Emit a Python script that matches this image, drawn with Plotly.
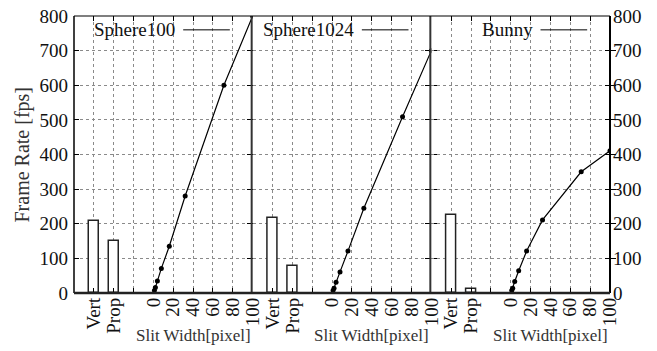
import plotly.graph_objects as go

# ---- data ----
panels = ["Sphere100", "Sphere1024", "Bunny"]
bar_labels = ["Vert", "Prop"]
vert_fps = [209, 217, 226]
prop_fps = [149, 77, 13]
slit_width = [1, 2, 4, 8, 16, 32, 71, 100]
sphere100_fps = [7, 16, 35, 71, 135, 280, 600, 800]
sphere1024_fps = [7, 14, 31, 61, 121, 245, 509, 700]
bunny_fps = [7, 14, 33, 64, 121, 211, 350, 411]
line_series = [sphere100_fps, sphere1024_fps, bunny_fps]
y_ticks = [0, 100, 200, 300, 400, 500, 600, 700, 800]
x_ticks = [0, 20, 40, 60, 80, 100]

FONT = "Liberation Serif"
GRID = "#8a8a8a"
BAR_POS = [-60, -40]

fig = go.Figure()
xnames = ["x", "x2", "x3"]
for i, name in enumerate(panels):
    xa = xnames[i]
    fig.add_trace(go.Bar(
        x=BAR_POS, y=[vert_fps[i], prop_fps[i]], width=10,
        marker=dict(color="white", line=dict(color="#222", width=1.5)),
        xaxis=xa, yaxis="y", showlegend=False))
    fig.add_trace(go.Scatter(
        x=slit_width, y=line_series[i], mode="lines+markers",
        line=dict(color="black", width=1.2),
        marker=dict(color="black", size=5),
        xaxis=xa, yaxis="y", showlegend=False))

fig.add_trace(go.Scatter(x=[None], y=[None], xaxis="x3", yaxis="y2",
                         showlegend=False, hoverinfo="skip"))

tickvals = BAR_POS + [-20] + x_ticks
ticktext = bar_labels + [""] + [str(v) for v in x_ticks]
xaxis_common = dict(
    range=[-80, 100], tickvals=tickvals, ticktext=ticktext, tickangle=-90,
    showgrid=True, gridcolor=GRID, griddash="dot", gridwidth=1,
    ticks="inside", ticklen=5, tickcolor="black", mirror="ticks",
    zeroline=False, showline=False, anchor="y", automargin=False,
    tickfont=dict(family=FONT, size=19, color="#111"),
)
domains = [[0, 1/3], [1/3, 2/3], [2/3, 1]]
layout = dict(
    width=657, height=351,
    margin=dict(l=74, r=47, t=16, b=58, pad=0),
    plot_bgcolor="white", paper_bgcolor="white",
    bargap=0, showlegend=False,
    yaxis=dict(range=[0, 800], tickvals=y_ticks, showgrid=True, gridcolor=GRID,
               griddash="dot", gridwidth=1, zeroline=False, ticks="inside",
               ticklen=5, tickcolor="black", mirror="allticks", anchor="x",
               ticklabelstandoff=5, automargin=False,
               tickfont=dict(family=FONT, size=19, color="#111")),
    yaxis2=dict(range=[0, 800], tickvals=y_ticks, overlaying="y", side="right",
                anchor="x3", showgrid=False, zeroline=False, ticks="inside",
                ticklen=5, tickcolor="black", ticklabelstandoff=2, automargin=False,
                tickfont=dict(family=FONT, size=19, color="#111")),
)
for i, xa in enumerate(xnames):
    key = "xaxis" if i == 0 else f"xaxis{i+1}"
    layout[key] = dict(xaxis_common, domain=domains[i])
fig.update_layout(**layout)

shapes = []
annotations = []
for i, name in enumerate(panels):
    xa = xnames[i]
    shapes.append(dict(type="line", xref=xa, yref="y", x0=30, x1=77, y0=760, y1=760,
                       line=dict(color="black", width=1)))
    annotations.append(dict(text=name, xref=xa, yref="y", x=24, y=760,
                            xanchor="right", yanchor="middle", showarrow=False,
                            font=dict(family=FONT, size=19, color="#111")))
    annotations.append(dict(text="Slit Width[pixel]", xref=xa, yref="paper", x=40,
                            y=-0.155, xanchor="center", yanchor="middle",
                            showarrow=False,
                            font=dict(family=FONT, size=17, color="#333")))
    if i < 2:
        shapes.append(dict(type="line", xref=xa, yref="paper", x0=100, x1=100,
                           y0=0, y1=1, line=dict(color="#333", width=4)))

shapes += [
    dict(type="line", xref="paper", yref="paper", x0=0, x1=1, y0=1, y1=1,
         line=dict(color="black", width=1.2)),
    dict(type="line", xref="paper", yref="paper", x0=0, x1=0, y0=0, y1=1,
         line=dict(color="black", width=1.5)),
    dict(type="line", xref="paper", yref="paper", x0=1, x1=1, y0=0, y1=1,
         line=dict(color="black", width=2)),
    dict(type="line", xref="paper", yref="paper", x0=0, x1=1, y0=0, y1=0,
         line=dict(color="#222", width=2.5)),
]
annotations.append(dict(text="Frame Rate [fps]", xref="paper", yref="paper",
                        x=-0.097, y=0.5, textangle=-90, showarrow=False,
                        xanchor="center", yanchor="middle",
                        font=dict(family=FONT, size=20, color="#333")))
fig.update_layout(shapes=shapes, annotations=annotations)

fig.write_html("out.html", config={"displayModeBar": False},
               post_script="document.body.style.margin='0';document.body.style.padding='0';")
